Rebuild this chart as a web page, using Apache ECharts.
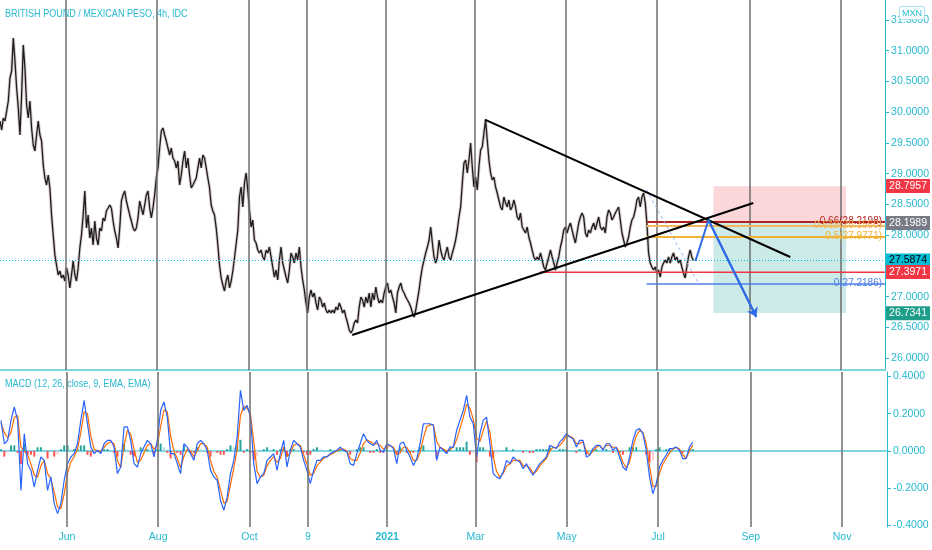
<!DOCTYPE html>
<html><head><meta charset="utf-8">
<script src="https://cdn.jsdelivr.net/npm/echarts@6/dist/echarts.min.js"></script>
<style>html,body{margin:0;padding:0;background:#fff}#c{width:932px;height:550px}</style>
</head><body><div id="c"></div>
<script>
const titleText = 'BRITISH POUND / MEXICAN PESO, 4h, IDC';
const macdTitleText = 'MACD (12, 26, close, 9, EMA, EMA)';
const currencyText = 'MXN';
const axisStart = '2020-04-18T00:00:00Z';
const axisEnd = '2021-11-30T08:00:00Z';
const priceStart = '2020-04-18T00:00:00Z';
const priceStepHours = 26.6667;
const closes = [
29.857,29.710,29.906,29.857,30.019,30.182,30.556,30.670,31.207,30.833,
30.393,30.068,29.629,30.280,31.093,30.719,30.117,29.906,30.182,29.743,
29.467,29.369,29.629,29.857,29.629,29.532,29.141,28.930,28.816,28.979,
28.768,28.329,28.003,27.678,27.515,27.353,27.418,27.304,27.353,27.255,
27.467,27.353,27.142,27.353,27.580,27.353,27.255,27.467,27.792,28.003,
28.329,28.719,28.117,28.329,27.954,28.117,27.841,28.231,27.954,27.841,
28.117,28.068,28.280,28.231,28.394,28.442,28.491,28.442,28.231,28.068,
27.954,27.792,28.117,28.556,28.654,28.719,28.556,28.442,28.329,28.231,
28.117,28.068,28.117,28.280,28.556,28.442,28.329,28.491,28.654,28.719,
28.442,28.280,28.442,28.654,28.930,29.093,29.418,29.694,29.743,29.629,
29.532,29.418,29.304,29.418,29.255,29.207,29.093,29.207,28.816,28.979,
29.207,29.369,29.093,29.255,28.979,28.768,28.816,28.816,28.930,29.093,
29.255,29.093,29.304,29.255,29.093,28.930,28.768,28.491,28.394,28.329,
28.117,27.841,27.515,27.304,27.190,27.093,27.255,27.353,27.142,27.255,
27.418,27.629,
27.646,28.085,28.621,28.784,28.459,28.849,29.012,28.735,28.410,28.133,
28.247,27.922,27.873,27.759,27.711,27.759,27.646,27.597,27.759,27.711,
27.808,27.646,27.483,27.320,27.434,27.272,27.597,27.808,27.548,27.434,
27.320,27.223,27.434,27.711,27.646,27.548,27.711,27.597,27.808,27.483,
27.272,27.109,26.898,26.735,26.995,27.109,26.995,27.060,26.898,26.784,
26.995,26.946,26.832,26.898,26.784,26.735,26.784,26.735,26.784,26.735,
26.832,26.784,26.898,26.832,26.735,26.784,26.670,26.572,26.459,26.410,
26.459,26.572,26.621,26.572,26.832,26.995,26.946,26.832,26.995,26.898,
27.060,26.832,27.060,26.946,27.158,26.995,26.898,26.946,26.898,27.060,
27.158,27.223,27.060,27.109,26.995,26.898,26.735,27.060,27.158,27.223,
27.109,27.060,26.995,26.946,26.898,26.832,26.735,26.670,26.784,26.946,
27.109,27.320,27.483,27.597,27.711,27.808,27.922,28.133,27.873,27.646,
27.548,27.646,27.922,27.759,27.646,27.597,27.711,27.808,27.646,27.597,
27.711,27.808,27.922,28.085,28.296,28.459,28.849,29.174,29.223,29.012,
29.223,29.499,29.109,28.784,28.946,28.735,29.109,29.385,29.434,29.662,
29.873,29.548,29.223,29.012,28.898,28.946,28.784,28.686,28.572,28.459,
28.410,28.621,28.524,28.459,28.572,28.410,28.459,28.572,28.459,28.296,
28.247,28.361,28.133,28.085,28.036,28.133,27.971,27.873,27.759,27.646,
27.597,27.646,27.597,27.711,27.597,27.483,27.434,27.548,27.646,27.759,
27.646,27.548,27.434,27.548,27.646,27.808,27.922,28.085,28.133,28.036,
28.133,28.198,28.085,27.971,27.873,28.036,28.198,28.296,28.361,28.296,
28.036,27.971,28.085,28.036,28.133,28.198,28.085,28.198,28.296,28.133,
28.085,28.133,28.036,28.296,28.410,28.361,28.247,28.296,28.361,28.410,
28.459,28.247,28.036,27.922,27.808,27.873,27.971,28.133,28.247,28.296,
28.410,28.572,28.621,28.459,28.621,28.686,28.524,28.198,27.711,27.548,
27.483,27.434,27.483,27.385,27.434,27.320,27.483,27.548,27.597,27.548,
27.646,27.548,27.646,27.711,27.597,27.646,27.548,27.597,27.483,27.385,
27.304,27.483,27.646,27.759,27.646,27.5874
];
const macdStart = '2020-04-18T00:00:00Z';
const macdStepHours = 53.3333;
const macdValues = [
0.164,0.039,0.057,0.164,0.236,0.164,-0.211,0.093,-0.068,-0.104,
-0.193,-0.104,-0.032,-0.050,-0.211,-0.139,-0.282,-0.336,-0.282,-0.157,
-0.068,-0.032,-0.014,0.039,0.164,0.271,0.146,0.021,-0.014,0.004,
-0.014,0.039,0.057,0.057,0.021,-0.121,-0.086,0.129,0.129,0.057,
-0.068,-0.086,-0.014,0.021,0.057,0.039,-0.032,0.057,0.218,0.263,
0.182,-0.014,-0.014,-0.068,-0.121,0.039,0.021,-0.014,-0.050,0.039,
0.057,0.039,0.004,-0.104,-0.139,-0.157,-0.264,-0.318,-0.246,-0.121,
-0.050,0.075,0.325,0.218,0.245,0.182,-0.068,-0.175,-0.139,-0.121,
-0.050,-0.032,-0.014,-0.104,-0.014,0.057,-0.086,0.004,0.057,0.039,
0.021,-0.050,-0.104,-0.175,-0.104,-0.050,-0.050,-0.032,-0.032,-0.014,
-0.005,0.004,0.021,0.004,-0.005,-0.068,
-0.077,-0.014,0.039,0.093,0.057,0.039,0.030,0.057,0.004,-0.005,
0.039,0.030,0.013,-0.068,0.039,0.048,0.004,-0.032,-0.077,-0.041,
0.039,0.146,0.146,0.146,0.138,-0.050,0.021,0.004,-0.014,0.021,
0.021,0.111,0.164,0.218,0.298,0.182,0.146,-0.032,0.093,0.164,
0.182,0.039,-0.121,-0.139,-0.148,-0.113,-0.050,-0.068,-0.032,-0.050,
-0.059,-0.095,-0.068,-0.104,-0.130,-0.095,-0.068,-0.050,-0.032,0.030,
0.021,0.013,0.048,0.066,0.093,0.075,0.066,0.021,0.057,0.057,
-0.032,-0.023,0.013,0.030,0.030,0.004,0.039,0.039,0.004,0.021,
-0.032,-0.086,-0.104,-0.032,0.057,0.111,0.120,0.093,0.004,-0.139,
-0.229,-0.175,-0.086,-0.050,-0.023,0.013,0.013,0.021,0.004,-0.041,
-0.041,0.021,0.048
];
const signalValues = [
0.15,0.10,0.07,0.10,0.18,0.19,0.02,0.00,-0.02,-0.07,
-0.13,-0.14,-0.08,-0.05,-0.12,-0.15,-0.22,-0.30,-0.31,-0.23,
-0.12,-0.06,-0.03,0.01,0.10,0.21,0.20,0.08,0.01,0.00,
0.00,0.02,0.04,0.05,0.04,-0.05,-0.09,0.03,0.11,0.09,
0.01,-0.06,-0.05,-0.01,0.03,0.04,0.01,0.03,0.13,0.22,
0.21,0.08,0.00,-0.04,-0.09,-0.03,0.01,0.00,-0.03,0.00,
0.04,0.04,0.02,-0.05,-0.11,-0.14,-0.21,-0.28,-0.27,-0.18,
-0.09,0.01,0.19,0.24,0.23,0.20,0.05,-0.11,-0.14,-0.13,
-0.08,-0.05,-0.03,-0.06,-0.04,0.02,-0.03,-0.01,0.03,0.04,
0.03,-0.02,-0.07,-0.13,-0.12,-0.08,-0.06,-0.04,-0.03,-0.02,
-0.01,0.00,0.01,0.01,0.00,-0.04,
-0.05,-0.05,-0.01,0.04,0.06,0.05,0.04,0.04,0.03,0.01,
0.02,0.03,0.02,-0.02,-0.01,0.02,0.02,-0.01,-0.05,-0.05,
-0.01,0.07,0.13,0.14,0.14,0.05,0.02,0.01,0.00,0.01,
0.02,0.06,0.12,0.18,0.25,0.23,0.17,0.07,0.05,0.11,
0.16,0.10,-0.03,-0.11,-0.14,-0.12,-0.08,-0.07,-0.05,-0.05,
-0.05,-0.08,-0.08,-0.09,-0.12,-0.11,-0.08,-0.06,-0.04,0.00,
0.02,0.02,0.03,0.05,0.08,0.08,0.07,0.04,0.04,0.05,
0.00,-0.02,0.00,0.02,0.03,0.01,0.03,0.03,0.02,0.02,
-0.01,-0.06,-0.09,-0.06,0.02,0.08,0.11,0.10,0.04,-0.08,
-0.19,-0.19,-0.12,-0.07,-0.04,-0.01,0.01,0.02,0.01,-0.02,
-0.04,0.00,0.03
];
const histValues = [
0.01,-0.03,-0.01,0.03,0.03,-0.01,-0.07,0.04,-0.02,-0.02,
-0.03,0.02,0.02,0.00,-0.04,0.00,-0.03,-0.02,0.01,0.03,
0.03,0.01,0.01,0.01,0.03,0.03,-0.02,-0.03,-0.01,0.00,
-0.01,0.01,0.01,0.00,-0.01,-0.03,0.00,0.04,0.01,-0.02,
-0.03,-0.01,0.02,0.01,0.01,0.00,-0.02,0.01,0.04,0.02,
-0.01,-0.04,-0.01,-0.01,-0.02,0.03,0.01,-0.01,-0.01,0.02,
0.01,0.00,-0.01,-0.03,-0.01,-0.01,-0.02,-0.02,0.01,0.03,
0.02,0.03,0.06,-0.01,0.01,-0.01,-0.05,-0.03,0.00,0.01,
0.02,0.01,0.01,-0.02,0.01,0.02,-0.03,0.01,0.01,0.00,
0.00,-0.01,-0.02,-0.02,0.01,0.02,0.01,0.00,0.00,0.01,
0.00,0.00,0.01,0.00,0.00,-0.02,
-0.01,0.01,0.02,0.02,0.00,-0.01,-0.01,0.01,-0.01,-0.01,
0.01,0.00,0.00,-0.02,0.02,0.01,-0.01,-0.01,-0.01,0.00,
0.02,0.03,0.01,0.00,0.00,-0.04,0.00,0.00,-0.01,0.01,
0.00,0.02,0.02,0.02,0.05,-0.02,-0.01,-0.06,0.02,0.02,
0.01,-0.03,-0.04,-0.01,0.00,0.00,0.02,0.00,0.01,0.00,
0.00,-0.01,0.00,-0.01,-0.01,0.01,0.01,0.01,0.01,0.02,
0.00,0.00,0.01,0.01,0.01,0.00,0.00,-0.01,0.01,0.00,
-0.02,0.00,0.01,0.01,0.00,0.00,0.01,0.00,-0.01,0.00,
-0.01,-0.02,-0.01,0.02,0.02,0.02,0.01,0.00,-0.02,-0.06,
-0.05,0.01,0.02,0.01,0.01,0.01,0.00,0.00,0.00,-0.01,
0.00,0.01,0.01
];
const monthTickDates = ['2020-06-01','2020-08-01','2020-10-01','2020-11-09','2021-01-01','2021-03-01','2021-05-01','2021-07-01','2021-09-01','2021-11-01'];
const monthTickLabels = ['Jun','Aug','Oct','9','2021','Mar','May','Jul','Sep','Nov'];
const priceTicks = [26,26.5,27,27.5,28,28.5,29,29.5,30,30.5,31,31.5];
const macdTicks = [-0.4,-0.2,0,0.2,0.4];
const priceMin = 25.8081, priceMax = 31.8244;
const macdMin = -0.4075, macdMax = 0.4236;

const lastPrice = 27.5874;
const stopLevel = 28.7957;
const entryLevel = 28.1989;
const targetLevel = 26.7341;
const supportLevel = 27.3971;
const supportStart = '2021-04-13T16:00:00Z';
const descTrend = [['2021-03-08T00:00:00Z', 29.88], ['2021-09-28T00:00:00Z', 27.646]];
const ascTrend = [['2020-12-09T08:00:00Z', 26.377], ['2021-09-03T08:00:00Z', 28.524]];
const fibStart = '2021-06-24T00:00:00Z';
const fibLabels = ['0.66(28.2198)', '0.618(28.1560)', '0.5(27.9771)', '0(27.2186)'];
const fibValues = [28.2198, 28.1560, 27.9771, 27.2186];
const fibDiagonal = [['2021-06-24T00:00:00Z', 28.7356], ['2021-07-28T16:00:00Z', 27.2186]];
const arrowPath = [['2021-07-26T16:00:00Z', 27.580], ['2021-08-04T08:00:00Z', 28.247], ['2021-09-05T08:00:00Z', 26.670]];
const boxStart = '2021-08-07T16:00:00Z';
const boxEnd = '2021-11-04T08:00:00Z';

const H = 3600e3;
const ts = s => Date.parse(s.length === 10 ? s + 'T00:00:00Z' : s);
const pt0 = ts(priceStart), mt0 = ts(macdStart);
const priceData = closes.map((v, i) => [pt0 + i * priceStepHours * H, v]);
const macdData = macdValues.map((v, i) => [mt0 + i * macdStepHours * H, v]);
const signalData = signalValues.map((v, i) => [mt0 + i * macdStepHours * H, v]);
const histData = histValues.map((v, i) => [mt0 + i * macdStepHours * H, v]);
const P = a => a.map(p => [ts(p[0]), p[1]]);

const CY = '#26b9cf';
const AXF = "'Liberation Sans','DejaVu Sans',sans-serif";
const TRANSPARENT = 'rgba(0,0,0,0)';

function seg(data, color, width, type, z) {
  return { type: 'line', xAxisIndex: 0, yAxisIndex: 0, data: P(data), showSymbol: false, silent: true,
    animation: false, z: z || 5, lineStyle: { color, width, type: type || 'solid' } };
}
function axisBox(value, bg, fg, line) {
  return { yAxis: value, lineStyle: line || { color: TRANSPARENT, width: 0 },
    label: { show: true, position: 'end', distance: 1, formatter: value.toFixed(4), backgroundColor: bg, color: fg,
      padding: [2, 3, 1, 3], fontSize: 10.5, fontFamily: AXF } };
}

const fibColors = ['#b22222', '#f4b860', '#f2b236', '#4f7fe8'];

const option = {
  animation: false,
  backgroundColor: '#ffffff',
  graphic: [
    { type: 'text', left: 5, top: 9, scaleX: 0.86, z: 100,
      style: { text: titleText, fill: CY, font: "10.5px 'Liberation Sans',sans-serif" } },
    { type: 'text', left: 5, top: 379, scaleX: 0.86, z: 100,
      style: { text: macdTitleText, fill: CY, font: "10.5px 'Liberation Sans',sans-serif" } },
    { type: 'text', left: 899, top: 6, z: 100,
      style: { text: currencyText, fill: CY, font: "9px 'Liberation Sans',sans-serif", backgroundColor: '#fff',
        borderColor: '#a8e3ec', borderWidth: 1, borderRadius: 2, padding: [2, 2, 1, 2] } }
  ],
  grid: [
    { left: 0, right: 45, top: 0, height: 370 },
    { left: 0, right: 45, top: 372, height: 155 }
  ],
  xAxis: [
    { type: 'time', gridIndex: 0, min: ts(axisStart), max: ts(axisEnd), axisLabel: { show: false }, axisTick: { show: false },
      splitLine: { show: false }, axisLine: { show: true, lineStyle: { color: '#7fd6e2', width: 2 } } },
    { type: 'time', gridIndex: 1, min: ts(axisStart), max: ts(axisEnd), axisLabel: { show: false }, axisTick: { show: false },
      splitLine: { show: false }, axisLine: { show: true, lineStyle: { color: '#7fd6e2', width: 2 } } }
  ],
  yAxis: [
    { type: 'value', gridIndex: 0, position: 'right', min: priceMin, max: priceMax,
      axisLine: { show: true, lineStyle: { color: CY, width: 1 } },
      axisTick: { show: true, length: 4, customValues: priceTicks, lineStyle: { color: CY } },
      axisLabel: { customValues: priceTicks, formatter: v => v.toFixed(4), color: CY, fontSize: 10.5, margin: 6, fontFamily: AXF },
      splitLine: { show: false } },
    { type: 'value', gridIndex: 1, position: 'right', min: macdMin, max: macdMax,
      axisLine: { show: true, lineStyle: { color: CY, width: 1 } },
      axisTick: { show: true, length: 4, customValues: macdTicks, lineStyle: { color: CY } },
      axisLabel: { customValues: macdTicks, formatter: v => v.toFixed(4), color: CY, fontSize: 10.5, margin: 6, fontFamily: AXF },
      splitLine: { show: false } }
  ],
  series: [
    { type: 'line', xAxisIndex: 0, yAxisIndex: 0, data: [], silent: true, z: 1,
      markLine: { silent: true, symbol: ['none', 'none'], animation: false, label: { show: false },
        lineStyle: { color: '#6e6e6e', width: 1.5, type: 'solid' },
        data: monthTickDates.map(d => ({ xAxis: ts(d) })) } },
    { type: 'line', xAxisIndex: 1, yAxisIndex: 1, data: [], silent: true, z: 1, clip: false,
      markLine: { silent: true, symbol: ['none', 'none'], animation: false,
        lineStyle: { color: '#6e6e6e', width: 1.5, type: 'solid' },
        label: { show: true, position: 'start', distance: 5, formatter: '{b}', color: CY, fontSize: 10.5, fontFamily: AXF },
        data: monthTickDates.map((d, i) => ({ xAxis: ts(d), name: monthTickLabels[i],
          label: { fontWeight: monthTickLabels[i] === '2021' ? 'bold' : 'normal' } })) } },
    { type: 'line', xAxisIndex: 0, yAxisIndex: 0, data: [], silent: true, z: 2,
      markArea: { silent: true, animation: false, data: [
        [{ coord: [ts(boxStart), entryLevel], itemStyle: { color: 'rgba(242,54,69,0.2)' } }, { coord: [ts(boxEnd), stopLevel] }],
        [{ coord: [ts(boxStart), targetLevel], itemStyle: { color: 'rgba(0,150,136,0.2)' } }, { coord: [ts(boxEnd), entryLevel] }]
      ] } },
    { type: 'line', name: 'wick band', xAxisIndex: 0, yAxisIndex: 0, data: priceData, showSymbol: false, silent: true, z: 3,
      lineStyle: { color: 'rgba(150,110,110,0.35)', width: 3.2 } },
    { type: 'line', name: 'GBPMXN', xAxisIndex: 0, yAxisIndex: 0, data: priceData, showSymbol: false, silent: true, z: 3,
      lineStyle: { color: '#1c1c1c', width: 1.3 } },
    { type: 'line', xAxisIndex: 0, yAxisIndex: 0, data: [], silent: true, z: 6,
      markLine: { silent: true, symbol: ['none', 'none'], animation: false, label: { show: false },
        data: fibValues.map((v, i) => [
          { coord: [ts(fibStart), v], lineStyle: { color: fibColors[i], width: i === 3 ? 1.5 : 2, type: 'solid' } },
          { coord: [ts(axisEnd), v] }
        ]) } },
    { type: 'line', xAxisIndex: 0, yAxisIndex: 0, data: [], silent: true, z: 9, clip: false,
      markPoint: { silent: true, animation: false, symbol: 'circle', symbolSize: 0,
        data: fibValues.map((v, i) => ({ coord: [ts(axisEnd), v],
          label: { show: true, position: 'left', distance: 3, formatter: fibLabels[i], color: fibColors[i], fontSize: 10, fontFamily: AXF } })) } },
    seg(fibDiagonal, '#8fb3f0', 1, [3, 3], 6),
    seg([[supportStart, supportLevel], [axisEnd, supportLevel]], '#f23645', 1.5, 'solid', 6),
    seg(descTrend, '#000000', 2, 'solid', 7),
    seg(ascTrend, '#000000', 2, 'solid', 7),
    Object.assign(seg(arrowPath, '#2f6be6', 2, 'solid', 8), {
      markLine: { silent: true, animation: false, symbol: ['none', 'arrow'], symbolSize: 9,
        lineStyle: { color: '#2f6be6', width: 2, type: 'solid' }, label: { show: false },
        data: [[{ coord: [ts(arrowPath[1][0]), arrowPath[1][1]] }, { coord: [ts(arrowPath[2][0]), arrowPath[2][1]] }]] } }),
    { type: 'line', xAxisIndex: 0, yAxisIndex: 0, data: [], silent: true, z: 20, clip: false,
      markLine: { silent: true, animation: false, symbol: ['none', 'none'],
        data: [
          axisBox(stopLevel, '#f23645', '#ffffff'),
          axisBox(entryLevel, '#787b86', '#ffffff'),
          axisBox(lastPrice, '#00bcd4', '#000000', { color: '#00bcd4', width: 1, type: [1, 2] }),
          axisBox(supportLevel, '#f23645', '#ffffff'),
          axisBox(targetLevel, '#1e9e8a', '#ffffff')
        ] } },
    { type: 'bar', name: 'Histogram', xAxisIndex: 1, yAxisIndex: 1, data: histData, barWidth: 2, silent: true, z: 2,
      itemStyle: { color: p => {
        const i = p.dataIndex, v = histValues[i], pv = i > 0 ? histValues[i - 1] : 0;
        if (v >= 0) return v >= pv ? '#26a69a' : '#b2dfdb';
        return v <= pv ? '#ff5252' : '#ffcdd2';
      } } },
    { type: 'line', name: 'MACD', xAxisIndex: 1, yAxisIndex: 1, data: macdData, showSymbol: false, silent: true, z: 4,
      lineStyle: { color: '#2962ff', width: 1.2 } },
    { type: 'line', name: 'Signal', xAxisIndex: 1, yAxisIndex: 1, data: signalData, showSymbol: false, silent: true, z: 3,
      lineStyle: { color: '#ff6d00', width: 1.2 } }
  ]
};
const chart = echarts.init(document.getElementById('c'), null, { renderer: 'canvas' });
chart.setOption(option);
</script></body></html>
